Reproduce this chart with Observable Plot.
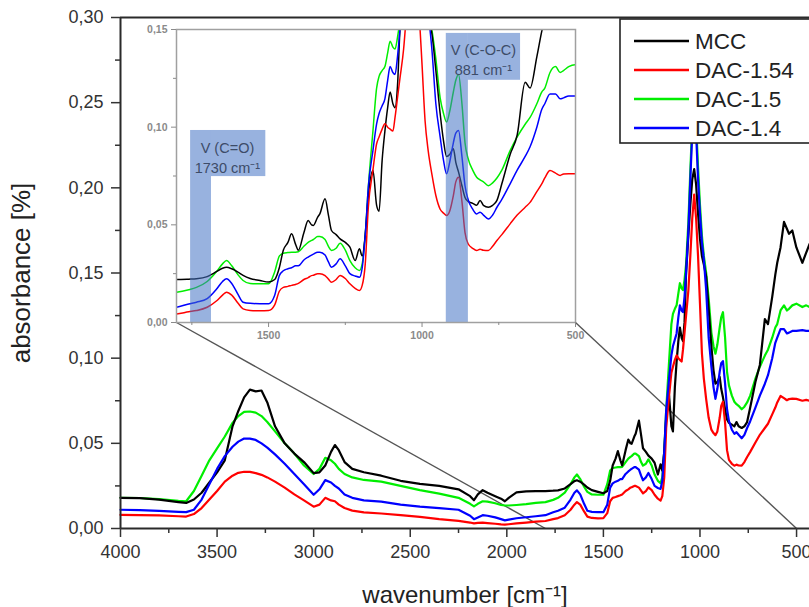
<!DOCTYPE html>
<html><head><meta charset="utf-8">
<script src="https://cdn.jsdelivr.net/npm/d3@7"></script>
<script src="https://cdn.jsdelivr.net/npm/@observablehq/plot@0.6"></script>
<style>
html,body{margin:0;padding:0;background:#fff;}
#wrap{position:relative;width:809px;height:607px;overflow:hidden;font-family:"Liberation Sans",Arial,sans-serif;}
</style></head><body><div id="wrap"></div><script>
// ---------- data ----------
const wavenumbers = [
 4000,3900,3800,3700,3660,3620,3580,3540,3500,3460,
 3420,3390,3360,3330,3300,3270,3240,3200,3150,3100,
 3050,3000,2970,2940,2910,2890,2870,2840,2800,2740,
 2650,2550,2450,2350,2250,2190,2170,2150,2125,2100,
 2060,2030,2010,1990,1950,1900,1850,1800,1760,1735,
 1700,1670,1650,1637,1620,1600,1583,1560,1528,1500,
 1480,1465,1452,1437,1425,1412,1403,1385,1371,1360,
 1354,1340,1333,1316,1305,1295,1280,1267,1250,1235,
 1218,1204,1195,1185,1175,1160,1148,1140,1130,1121,
 1112,1104,1095,1088,1080,1072,1060,1050,1040,1030,
 1020,1010,1000,990,980,968,955,941,930,920,
 910,898,890,881,870,860,850,835,822,811,
 800,784,770,756,740,713,690,664,648,626,
 610,600,583,565,550,539,522,501,470,450,433];
const mcc = [
 .018,.0178,.017,.0155,.015,.017,.021,.027,.033,.040,
 .060,.069,.077,.0815,.0805,.081,.074,.060,.050,.044,
 .039,.0325,.033,.037,.045,.049,.046,.039,.035,.033,
 .031,.028,.0262,.025,.023,.019,.0166,.020,.0225,.021,
 .019,.0175,.016,.018,.0212,.0218,.022,.022,.0222,.0224,
 .0235,.026,.0278,.0283,.0275,.0258,.0241,.0225,.0215,.0207,
 .022,.028,.037,.041,.0454,.040,.037,.046,.0522,.050,
 .0497,.054,.0556,.0633,.055,.0471,.045,.0428,.041,.0386,
 .0317,.0377,.034,.045,.065,.078,.060,.057,.083,.098,
 .110,.118,.112,.110,.121,.150,.172,.190,.205,.211,
 .202,.185,.170,.160,.155,.148,.129,.107,.093,.085,
 .086,.089,.082,.077,.070,.064,.062,.061,.060,.0625,
 .060,.059,.060,.0625,.071,.086,.096,.123,.120,.136,
 .149,.156,.165,.180,.176,.173,.175,.165,.156,.162,.167];
const dac154 = [
 .008,.0079,.0077,.0072,.007,.0085,.012,.017,.022,.0275,
 .031,.0327,.0333,.0332,.0325,.0315,.030,.0275,.024,.020,
 .0165,.0128,.014,.018,.0165,.016,.014,.012,.0105,.0095,
 .0088,.0078,.0068,.0055,.0045,.0035,.003,.0033,.0035,.0032,
 .0028,.0024,.0023,.0025,.003,.0035,.004,.0044,.0055,.0061,
 .0078,.011,.014,.0155,.014,.010,.007,.0062,.006,.0061,
 .009,.016,.018,.0185,.019,.0195,.020,.022,.023,.024,
 .0242,.025,.025,.024,.0222,.0206,.022,.0241,.0225,.0198,
 .0175,.0164,.019,.030,.059,.078,.0915,.095,.099,.1017,
 .100,.099,.098,.105,.115,.125,.140,.160,.182,.196,
 .182,.160,.132,.103,.088,.076,.065,.058,.056,.0548,
 .057,.065,.072,.0744,.062,.046,.0403,.038,.0369,.0375,
 .037,.0369,.039,.042,.045,.0505,.055,.059,.0615,.067,
 .071,.074,.0778,.0765,.0753,.076,.0762,.0761,.075,.0755,.075];
const dac15 = [
 .018,.0179,.0172,.0162,.016,.022,.031,.040,.047,.054,
 .062,.066,.0685,.0687,.068,.066,.0625,.057,.050,.044,
 .037,.032,.035,.0415,.040,.038,.035,.032,.030,.0285,
 .0275,.025,.0225,.0205,.018,.0145,.013,.0145,.016,.0158,
 .0148,.0138,.0135,.0135,.0138,.0143,.015,.0155,.0168,.018,
 .021,.026,.030,.0317,.029,.0245,.0215,.020,.0198,.0198,
 .026,.034,.0355,.0358,.036,.036,.0362,.039,.041,.042,
 .0425,.044,.044,.0425,.039,.0369,.038,.0406,.037,.0317,
 .028,.0266,.030,.045,.0693,.098,.120,.126,.129,.131,
 .138,.144,.141,.140,.146,.155,.180,.210,.238,.250,
 .238,.212,.190,.172,.160,.150,.135,.115,.107,.1026,
 .108,.118,.124,.127,.112,.092,.084,.078,.0744,.073,
 .072,.070,.0715,.074,.078,.088,.095,.1015,.105,.112,
 .118,.120,.128,.131,.128,.129,.131,.132,.130,.131,.130];
const dac14 = [
 .011,.0108,.0104,.0098,.0096,.011,.017,.026,.035,.0425,
 .048,.051,.0528,.0528,.052,.050,.0475,.0435,.038,.032,
 .026,.0198,.023,.0284,.027,.025,.0235,.020,.018,.0165,
 .0158,.014,.0128,.012,.011,.0075,.0055,.0065,.0078,.0075,
 .0065,.0055,.0048,.0052,.006,.0066,.0072,.0078,.0095,.0104,
 .0122,.017,.021,.0224,.020,.0145,.0104,.0098,.0096,.0096,
 .014,.024,.0265,.0275,.028,.029,.029,.032,.0335,.0345,
 .035,.036,.036,.0345,.031,.0283,.030,.0326,.029,.025,
 .0238,.0232,.028,.045,.0693,.088,.1017,.107,.111,.1145,
 .124,.131,.128,.127,.136,.150,.175,.205,.232,.240,
 .232,.205,.185,.168,.158,.140,.112,.095,.083,.0761,
 .082,.092,.097,.0983,.085,.070,.063,.058,.0556,.0565,
 .055,.053,.055,.059,.063,.071,.078,.085,.090,.100,
 .109,.112,.117,.117,.1145,.115,.116,.116,.1165,.116,.116];

const seriesNames = ["MCC", "DAC-1.54", "DAC-1.5", "DAC-1.4"];
const seriesValues = [mcc, dac154, dac15, dac14];
const seriesColors = ["#000000", "#ff0000", "#00ee00", "#0000ff"];
const drawOrder = ["DAC-1.5", "MCC", "DAC-1.54", "DAC-1.4"];

const xTicks = [4000, 3500, 3000, 2500, 2000, 1500, 1000, 500];
const xMinor = [3750, 3250, 2750, 2250, 1750, 1250, 750];
const yTicks = [0, 0.05, 0.10, 0.15, 0.20, 0.25, 0.30];
const yMinor = [0.025, 0.075, 0.125, 0.175, 0.225, 0.275];

const insetXTicks = [1500, 1000, 500];
const insetXMinor = [1750, 1250, 750];
const insetYTicks = [0, 0.05, 0.10, 0.15];
const insetYMinor = [0.025, 0.075, 0.125];

// absorption bands highlighted in the inset
const bandLabels = ["V (C=O)", "V (C-O-C)"];
const bandWavenumbers = ["1730 cm⁻¹", "881 cm⁻¹"];
const bandFrom = [1754, 921];
const bandTo = [1686, 849];

// ---------- layout ----------
const W = 809, H = 607;
const M = {left: 120, top: 17, right: 0, bottom: 79};
const xDomain = [4000, 433];
const yDomain = [0, 0.30];
const insetXDomain = [1800, 500];
const insetYDomain = [0, 0.15];
const insetBox = {left: 176, top: 29, right: 575, bottom: 322};
const IM = {left: 44, top: 6, right: 6, bottom: 26};

const fmt = d => d3.format(".2f")(d).replace(".", ",");
const rows = [];
seriesNames.forEach((name, k) => wavenumbers.forEach((w, i) =>
  rows.push({wn: w, v: seriesValues[k][i], name})));
const ordered = drawOrder.flatMap(n => rows.filter(r => r.name === n));

const mx = d3.scaleLinear(xDomain, [M.left, W - M.right]);
const my = d3.scaleLinear(yDomain, [H - M.bottom, M.top]);
const zoomLinks = [
  {x1: mx.invert(insetBox.left), y1: my.invert(insetBox.bottom), x2: insetXDomain[0], y2: 0},
  {x1: mx.invert(insetBox.right), y1: my.invert(insetBox.bottom), x2: insetXDomain[1], y2: 0}
];

const font = "'Liberation Sans', Arial, sans-serif";
const axisColor = "#2a2a2a";

const main = Plot.plot({
  width: W, height: H,
  marginLeft: M.left, marginTop: M.top, marginRight: M.right, marginBottom: M.bottom,
  style: {fontFamily: font, background: "white", overflow: "visible"},
  x: {domain: xDomain},
  y: {domain: yDomain},
  color: {domain: seriesNames, range: seriesColors},
  marks: [
    Plot.link(zoomLinks, {x1: "x1", y1: "y1", x2: "x2", y2: "y2", stroke: "#555", strokeWidth: 1.4}),
    Plot.line(ordered, {x: "wn", y: "v", z: "name", stroke: "name", strokeWidth: 2.2}),
    Plot.ruleX([xDomain[0]], {stroke: axisColor, strokeWidth: 2}),
    Plot.ruleY([yDomain[0]], {stroke: axisColor, strokeWidth: 2}),
    Plot.ruleY([yDomain[1]], {stroke: axisColor, strokeWidth: 2}),
    Plot.axisY(yTicks, {tickSize: 9, tickPadding: 8, tickFormat: fmt, fontSize: 18, color: "#333", strokeWidth: 1.5, label: null}),
    Plot.axisY(yMinor, {tickSize: 5, tickFormat: () => "", color: "#333", strokeWidth: 1.5, label: null}),
    Plot.axisX(xTicks, {tickSize: 9, tickPadding: 8, tickFormat: d => String(d), fontSize: 18, color: "#333", strokeWidth: 1.5, label: null}),
    Plot.axisX(xMinor, {tickSize: 5, tickFormat: () => "", color: "#333", strokeWidth: 1.5, label: null}),
    Plot.text(["absorbance [%]"], {frameAnchor: "left", dx: -99, rotate: -90, textAnchor: "middle", fontSize: 26, fill: "#222"}),
    Plot.text(["wavenumber [cm⁻¹]"], {frameAnchor: "bottom", dy: 67, lineAnchor: "middle", fontSize: 24, fill: "#222"})
  ]
});
main.style.position = "absolute";
main.style.left = "0px";
main.style.top = "0px";

// inset
const bandBars = bandFrom.map((f, i) => ({x1: f, x2: bandTo[i], y1: 0, y2: i === 0 ? 0.0983 : 0.148}));
const bandBoxes = [
  {x1: bandTo[0], x2: 1509, y1: 0.0747, y2: 0.0983},
  {x1: bandTo[1], x2: 679, y1: 0.124, y2: 0.148}
];
const bandText = [
  {x: 1634, y: 0.0891, t: bandLabels[0]},
  {x: 1634, y: 0.0789, t: bandWavenumbers[0]},
  {x: 800, y: 0.1393, t: bandLabels[1]},
  {x: 800, y: 0.1290, t: bandWavenumbers[1]}
];
const iw = insetBox.right - insetBox.left, ih = insetBox.bottom - insetBox.top;
const inset = Plot.plot({
  width: iw + IM.left + IM.right, height: ih + IM.top + IM.bottom,
  marginLeft: IM.left, marginTop: IM.top, marginRight: IM.right, marginBottom: IM.bottom,
  style: {fontFamily: font, background: "transparent", overflow: "visible"},
  x: {domain: insetXDomain},
  y: {domain: insetYDomain},
  color: {domain: seriesNames, range: seriesColors},
  marks: [
    Plot.frame({fill: "white", stroke: null}),
    Plot.line(ordered.filter(r => r.wn <= 1850 && r.wn >= 470),
      {x: "wn", y: "v", z: "name", stroke: "name", strokeWidth: 1.5, clip: true, curve: "monotone-x"}),
    Plot.rect(bandBars, {x1: "x1", x2: "x2", y1: "y1", y2: "y2", fill: "#4472c4", fillOpacity: 0.55}),
    Plot.rect(bandBoxes, {x1: "x1", x2: "x2", y1: "y1", y2: "y2", fill: "#4472c4", fillOpacity: 0.55}),
    Plot.text(bandText, {x: "x", y: "y", text: "t", fontSize: 14.5, fill: "#3d4c68"}),
    Plot.frame({stroke: "#a0a0a0", strokeWidth: 1.5}),
    Plot.axisY(insetYTicks, {tickSize: 5, tickPadding: 4, tickFormat: fmt, fontSize: 10.5, fontWeight: "bold", color: "#8a8a8a", strokeWidth: 1, label: null}),
    Plot.axisY(insetYMinor, {tickSize: 3, tickFormat: () => "", color: "#8a8a8a", strokeWidth: 1, label: null}),
    Plot.axisX(insetXTicks, {tickSize: 5, tickPadding: 4, tickFormat: d => String(d), fontSize: 10.5, fontWeight: "bold", color: "#8a8a8a", strokeWidth: 1, label: null}),
    Plot.axisX(insetXMinor, {tickSize: 3, tickFormat: () => "", color: "#8a8a8a", strokeWidth: 1, label: null})
  ]
});
inset.style.position = "absolute";
inset.style.left = (insetBox.left - IM.left) + "px";
inset.style.top = (insetBox.top - IM.top) + "px";

// legend
const legend = d3.create("svg")
  .attr("width", 200).attr("height", 128)
  .style("position", "absolute").style("left", "619px").style("top", "18px")
  .style("font-family", font);
legend.append("rect").attr("x", 1).attr("y", 1).attr("width", 240).attr("height", 124)
  .attr("fill", "white").attr("stroke", "#222").attr("stroke-width", 1.6);
seriesNames.forEach((name, i) => {
  const cy = 23 + i * 29;
  legend.append("line").attr("x1", 15).attr("x2", 70).attr("y1", cy).attr("y2", cy)
    .attr("stroke", seriesColors[i]).attr("stroke-width", 2.6);
  legend.append("text").attr("x", 76).attr("y", cy).attr("dy", "0.36em")
    .attr("font-size", 22.5).attr("fill", "#222").text(name);
});

const wrap = document.getElementById("wrap");
wrap.appendChild(main);
wrap.appendChild(inset);
wrap.appendChild(legend.node());
</script></body></html>
